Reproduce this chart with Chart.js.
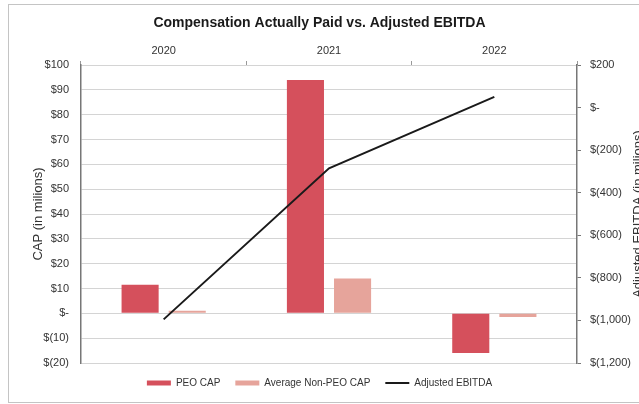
<!DOCTYPE html>
<html>
<head>
<meta charset="utf-8">
<script src="https://cdn.jsdelivr.net/npm/chart.js@4.4.1/dist/chart.umd.min.js"></script>
<style>
    html, body { margin: 0; padding: 0; background: #fff; overflow: hidden; }
    #wrap { position: relative; width: 639px; height: 404px; overflow: hidden; }
    #frame { position: absolute; left: 8px; top: 4px; width: 700px; height: 397px; border: 1px solid #c4c4c4; }
    #chart { position: absolute; left: 0; top: 0; }
</style>
</head>
<body>
<div id="wrap">
    <div id="frame"></div>
    <canvas id="chart" width="639" height="404"></canvas>
</div>
<script>
// ── Data ─────────────────────────────────────────────────────────────
const years = ['2020', '2021', '2022'];
const peoCap = [11.5, 94, -16];          // $ millions
const nonPeoCap = [1, 14, -1.5];         // $ millions
const adjEbitda = [-995, -285, 50];      // $ millions

const capTicks = { min: -20, max: 100, step: 10 };
const ebitdaTicks = { min: -1200, max: 200, step: 200 };

const FONT = 'Liberation Sans, Arial, sans-serif';

function money(v) {
    if (v === 0) return '$-';
    const s = Math.abs(v).toLocaleString('en-US');
    return v < 0 ? '$(' + s + ')' : '$' + s;
}

// right axis title reads bottom-to-top like the left one
const rightTitle = {
    id: 'rightTitle',
    afterDraw(chart) {
        const { ctx, chartArea } = chart;
        ctx.save();
        ctx.translate(638, (chartArea.top + chartArea.bottom) / 2);
        ctx.rotate(-Math.PI / 2);
        ctx.font = '13px ' + FONT;
        ctx.fillStyle = '#333';
        ctx.textAlign = 'center';
        ctx.textBaseline = 'middle';
        ctx.fillText('Adjusted EBITDA (in milions)', 0, 0);
        ctx.restore();
    }
};

new Chart(document.getElementById('chart'), {
    type: 'bar',
    data: {
        labels: years,
        datasets: [
            {
                label: 'PEO CAP',
                data: peoCap,
                backgroundColor: '#d5505c',
                yAxisID: 'y',
                order: 1,
                pointStyle: 'rect',
                categoryPercentage: 0.57,
                barPercentage: 0.787,
            },
            {
                label: 'Average Non-PEO CAP',
                data: nonPeoCap,
                backgroundColor: '#e6a49b',
                yAxisID: 'y',
                order: 1,
                pointStyle: 'rect',
                categoryPercentage: 0.57,
                barPercentage: 0.787,
            },
            {
                type: 'line',
                label: 'Adjusted EBITDA',
                data: adjEbitda,
                borderColor: '#1a1a1a',
                backgroundColor: '#1a1a1a',
                borderWidth: 2,
                pointRadius: 0,
                pointStyle: 'line',
                tension: 0,
                yAxisID: 'y1',
                order: 0,
            }
        ]
    },
    options: {
        responsive: false,
        animation: false,
        layout: { padding: { left: 0, right: 0, top: 0, bottom: 6 } },
        plugins: {
            title: {
                display: true,
                text: 'Compensation Actually Paid vs. Adjusted EBITDA',
                color: '#1a1a1a',
                font: { family: FONT, size: 14, weight: 'bold' },
                padding: { top: 15, bottom: 0 }
            },
            legend: {
                position: 'bottom',
                labels: {
                    usePointStyle: true,
                    pointStyleWidth: 24,
                    boxHeight: 5,
                    padding: 15,
                    color: '#333',
                    font: { family: FONT, size: 10 },
                    sort: (a, b) => a.datasetIndex - b.datasetIndex
                }
            },
            tooltip: { enabled: false }
        },
        scales: {
            x: {
                position: 'top',
                offset: true,
                grid: { offset: true, drawOnChartArea: false, tickLength: 4, color: '#999' },
                border: { color: '#d4d4d4' },
                ticks: { color: '#333', padding: 3, font: { family: FONT, size: 11 } },
                afterFit: s => { s.height = 33.2; }
            },
            y: {
                position: 'left',
                min: capTicks.min,
                max: capTicks.max,
                grid: { color: '#d4d4d4', drawTicks: false },
                border: { color: '#777', width: 1.5 },
                ticks: {
                    stepSize: capTicks.step,
                    padding: 12,
                    color: '#333',
                    font: { family: FONT, size: 11 },
                    callback: v => money(v)
                },
                title: {
                    display: true,
                    text: 'CAP (in milions)',
                    color: '#333',
                    font: { family: FONT, size: 13 },
                    padding: { top: 31, bottom: 0 }
                },
                afterFit: s => { s.width = 81; }
            },
            y1: {
                position: 'right',
                min: ebitdaTicks.min,
                max: ebitdaTicks.max,
                grid: { drawOnChartArea: false, tickLength: 4, color: '#777' },
                border: { color: '#777', width: 1.5 },
                ticks: {
                    stepSize: ebitdaTicks.step,
                    padding: 9,
                    color: '#333',
                    font: { family: FONT, size: 11 },
                    callback: v => money(v)
                },
                afterFit: s => { s.width = 62; }
            }
        }
    },
    plugins: [rightTitle]
});
</script>
</body>
</html>
